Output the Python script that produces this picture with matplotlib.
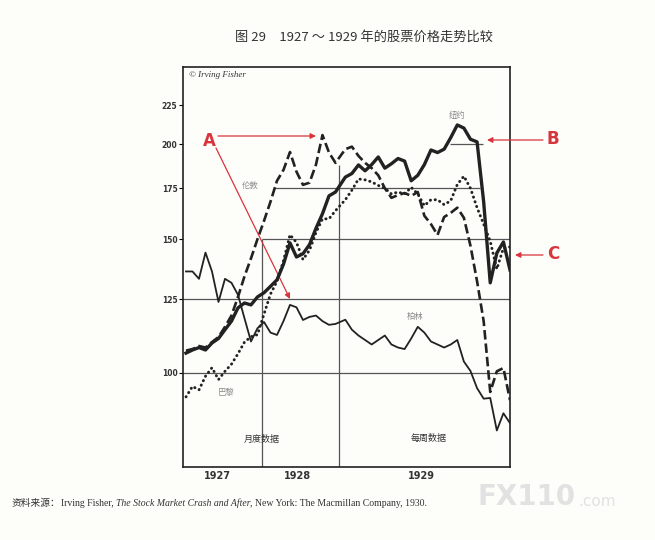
import matplotlib
matplotlib.use("Agg")
import numpy as np
import matplotlib.pyplot as plt
from matplotlib.ticker import NullLocator

plt.rcParams['font.family'] = ['Noto Sans CJK SC', 'DejaVu Sans']

# monthly index values, Jan 1927 - Dec 1928
new_york_monthly = [106.2, 107.2, 108.0, 107.2, 109.5, 111.0, 114.0, 117.0, 121.8, 123.6, 122.9, 125.9,
                    127.5, 130.0, 132.6, 139.0, 148.3, 142.1, 143.5, 147.5, 155.0, 162.0, 171.0, 173.0]
london_monthly = [107.0, 107.5, 108.5, 108.0, 109.8, 111.5, 115.0, 119.0, 125.9, 134.0, 141.5, 150.0,
                  158.5, 168.0, 179.0, 185.0, 195.3, 184.0, 176.8, 178.0, 188.0, 205.6, 195.0, 189.0]
paris_monthly = [93.0, 96.0, 95.0, 99.0, 101.6, 98.0, 100.5, 102.7, 106.0, 109.8, 111.6, 112.3,
                 119.5, 127.0, 132.0, 140.5, 152.0, 148.5, 141.0, 145.0, 153.0, 159.5, 159.5, 163.5]
berlin_monthly = [136.0, 136.0, 133.0, 144.0, 136.0, 124.0, 133.0, 131.4, 126.7, 118.0, 110.0, 114.5,
                  116.7, 113.0, 112.2, 117.0, 122.9, 122.0, 117.4, 118.5, 119.0, 117.0, 115.7, 116.0]

# 1929, read every second week
new_york_weekly = [181.0, 183.0, 187.8, 184.5, 188.0, 192.4, 186.0, 188.5, 191.5, 190.0, 179.0, 182.0, 188.0,
                   196.5, 195.0, 197.0, 204.0, 212.0, 210.0, 203.0, 201.4, 168.0, 131.4, 143.8, 148.7, 136.6]
london_weekly = [197.0, 198.5, 193.0, 189.0, 186.0, 182.0, 175.0, 170.0, 171.4, 172.5, 171.0, 173.0, 161.0,
                 157.0, 151.9, 160.4, 162.4, 165.0, 160.0, 147.0, 132.0, 117.0, 94.4, 100.5, 101.5, 92.1]
paris_weekly = [169.0, 174.0, 180.0, 179.5, 178.4, 176.5, 175.0, 172.0, 173.0, 172.0, 175.5, 172.0, 166.0,
                169.0, 169.0, 166.5, 168.5, 177.0, 181.5, 175.0, 165.0, 157.0, 149.0, 137.0, 146.0, 146.5]
berlin_weekly = [117.5, 114.0, 112.0, 110.5, 109.0, 110.5, 112.0, 109.0, 108.0, 107.5, 111.0, 115.0, 113.0,
                 110.0, 109.0, 108.0, 109.0, 110.5, 103.5, 100.6, 95.5, 92.5, 92.7, 84.0, 88.5, 85.9]

y_ticks = [100, 125, 150, 175, 200, 225]
y_tick_labels = ['100', '125', '150', '175', '200', '225']
year_labels = ['1927', '1928', '1929']

W, H = 655, 540


def fxy(px, py):
    # image pixel -> figure fraction
    return px / W, 1 - py / H


# x positions: months are 1 unit, 1929 weeks are stretched over the right part
x_month = np.arange(len(new_york_monthly))
x_week = 23.5 + (np.arange(len(new_york_weekly)) + 1) * (26.35 / len(new_york_weekly))
x_all = np.concatenate([x_month, x_week])

ny = np.concatenate([new_york_monthly, new_york_weekly])
ld = np.concatenate([london_monthly, london_weekly])
pa = np.concatenate([paris_monthly, paris_weekly])
be = np.concatenate([berlin_monthly, berlin_weekly])

fig = plt.figure(figsize=(W / 100, H / 100), dpi=100, facecolor='#fdfdfa')
ax = fig.add_axes([183 / W, 1 - 467 / H, (510 - 183) / W, (467 - 67) / H])
ax.set_facecolor('#fdfdfa')
ax.set_yscale('log')
ax.set_xlim(-0.46, 49.85)
ax.set_ylim(75.2, 252.7)

grid_c = '#555555'
ax.axhline(125, color=grid_c, lw=0.9, zorder=1)
ax.axhline(100, color=grid_c, lw=0.9, zorder=1)
ax.hlines(150, 11.7, 49.85, color=grid_c, lw=0.9, zorder=1)
ax.hlines(175, 13.7, 45.2, color=grid_c, lw=0.9, zorder=1)
ax.hlines(200, 40.6, 45.7, color=grid_c, lw=0.9, zorder=1)
ax.vlines(11.7, 75.2, 150, color=grid_c, lw=0.9, zorder=1)
ax.vlines(23.5, 75.2, 188, color=grid_c, lw=0.9, zorder=1)

line_c = '#222222'
ax.plot(x_all, be, color=line_c, lw=1.3, zorder=3)
ax.plot(x_all, pa, color=line_c, lw=2.1, linestyle=(0, (0.1, 1.6)),
        dash_capstyle='round', zorder=3)
ax.plot(x_all, ld, color=line_c, lw=1.9, linestyle=(0, (3.6, 1.5)), zorder=3)
ax.plot(x_all, ny, color=line_c, lw=2.4, zorder=4)

for s in ax.spines.values():
    s.set_linewidth(1.2)
    s.set_color('#222222')

ax.set_yticks(y_ticks)
ax.set_yticklabels(y_tick_labels)
ax.yaxis.set_minor_locator(NullLocator())
ax.tick_params(axis='y', direction='out', length=3, width=0.8, pad=1,
               labelsize=5.5, labelcolor='#333333')
for t in ax.get_yticklabels():
    t.set_fontweight('bold')
    t.set_family('DejaVu Sans')

ax.set_xticks([4.8, 17.1, 36.2])
ax.set_xticklabels(year_labels)
ax.tick_params(axis='x', length=0, pad=3, labelsize=7, labelcolor='#333333')
for t in ax.get_xticklabels():
    t.set_fontweight('bold')
    t.set_family('DejaVu Sans')

# labels inside the chart
lab_c = '#8a8a8a'
fig.text(*fxy(250, 186), '伦敦', fontsize=6, color=lab_c, ha='center', va='center')
fig.text(*fxy(457, 115), '纽约', fontsize=6, color=lab_c, ha='center', va='center')
fig.text(*fxy(415, 316), '柏林', fontsize=6, color=lab_c, ha='center', va='center')
fig.text(*fxy(226, 393), '巴黎', fontsize=6, color=lab_c, ha='center', va='center')
fig.text(*fxy(262, 439), '月度数据', fontsize=6.5, color='#333333', ha='center', va='center')
fig.text(*fxy(429, 438), '每周数据', fontsize=6.5, color='#333333', ha='center', va='center')
fig.text(*fxy(189, 75), '© Irving Fisher', fontsize=6.5, color='#333333', ha='left', va='center',
         family='Liberation Serif', style='italic')

# red annotations
red = '#d8343c'
fig.text(*fxy(209, 141), 'A', fontsize=12, color=red, fontweight='bold', ha='center', va='center',
         family='DejaVu Sans')
fig.text(*fxy(553, 139), 'B', fontsize=12, color=red, fontweight='bold', ha='center', va='center',
         family='DejaVu Sans')
fig.text(*fxy(553, 254), 'C', fontsize=12, color=red, fontweight='bold', ha='center', va='center',
         family='DejaVu Sans')
arrow = dict(arrowstyle='-|>', color=red, lw=0.9, mutation_scale=8, shrinkA=0, shrinkB=0)
ax.annotate('', xy=fxy(316, 136), xytext=fxy(218, 136), xycoords='figure fraction',
            textcoords='figure fraction', arrowprops=arrow, annotation_clip=False)
ax.annotate('', xy=fxy(290, 299), xytext=fxy(216, 148), xycoords='figure fraction',
            textcoords='figure fraction', arrowprops=arrow, annotation_clip=False)
ax.annotate('', xy=fxy(487, 140), xytext=fxy(543, 140), xycoords='figure fraction',
            textcoords='figure fraction', arrowprops=arrow, annotation_clip=False)
ax.annotate('', xy=fxy(515, 255), xytext=fxy(543, 255), xycoords='figure fraction',
            textcoords='figure fraction', arrowprops=arrow, annotation_clip=False)

# title
fig.text(*fxy(364, 37), '图 29　1927 ～ 1929 年的股票价格走势比较', fontsize=9.5,
         color='#333333', ha='center', va='center')

# source line, drawn piece by piece
renderer = fig.canvas.get_renderer()
pieces = [
    ('资料来源：', dict(family=['Noto Sans CJK SC', 'DejaVu Sans'])),
    ('Irving Fisher, ', dict(family='Liberation Serif')),
    ('The Stock Market Crash and After', dict(family='Liberation Serif', style='italic')),
    (', New York: The Macmillan Company, 1930.', dict(family='Liberation Serif')),
]
px = 12
for txt, kw in pieces:
    t = fig.text(*fxy(px, 503), txt, fontsize=7, color='#333333', ha='left', va='center', **kw)
    bb = t.get_window_extent(renderer)
    px += bb.width

# watermark
wm = fig.text(*fxy(478, 497), 'FX110', fontsize=20, color='#e2e2e2', fontweight='bold',
              ha='left', va='center', family='DejaVu Sans')
wm_right = 478 + wm.get_window_extent(renderer).width
fig.text(*fxy(wm_right + 2, 502), '.com', fontsize=11, color='#e2e2e2', ha='left', va='center',
         family='DejaVu Sans')

fig.savefig('out.png', dpi=100, facecolor=fig.get_facecolor())
